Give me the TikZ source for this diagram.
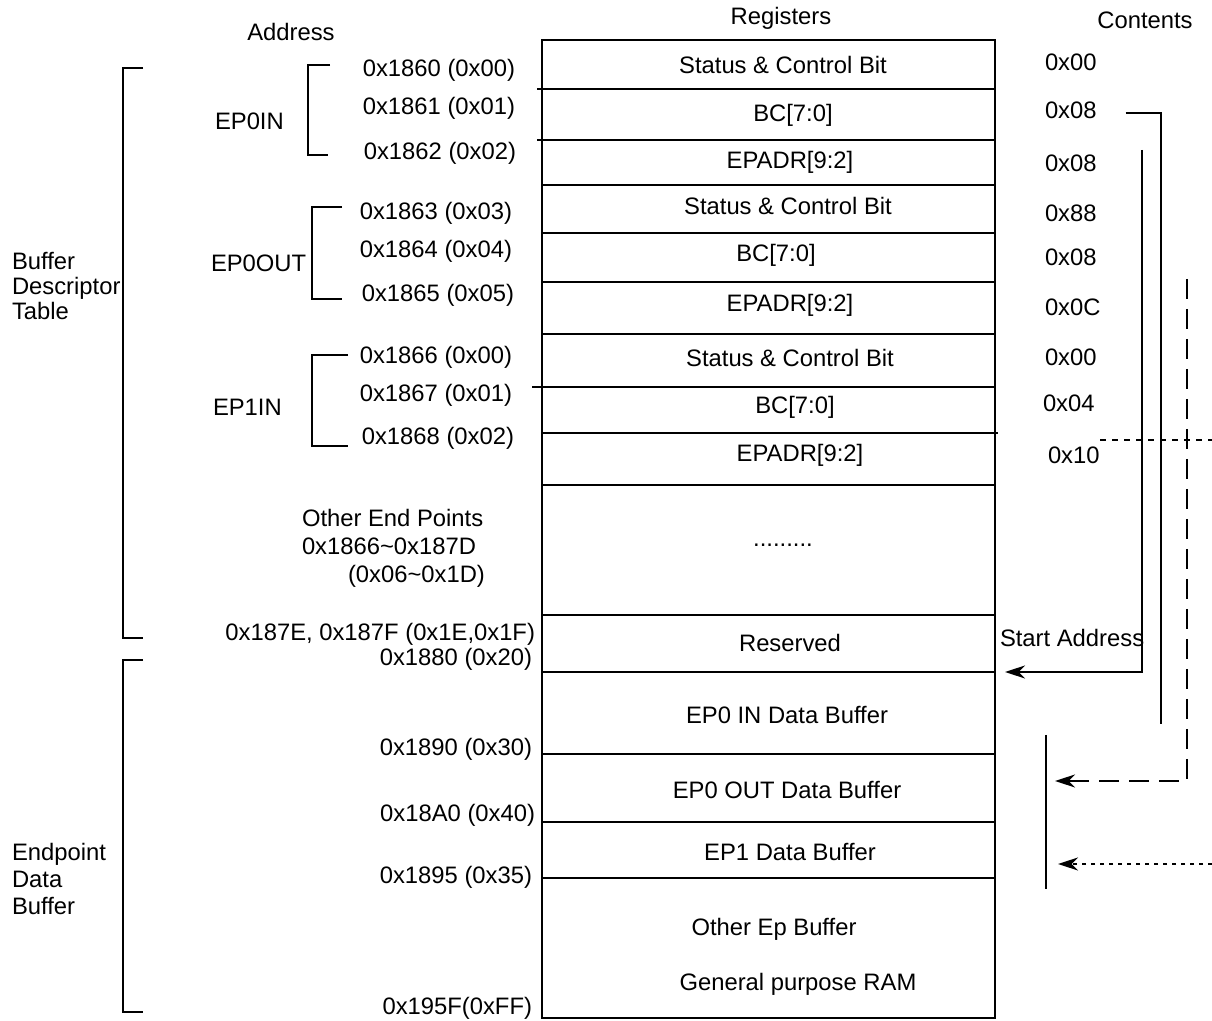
\documentclass[tikz,border=0pt]{standalone}
\usepackage{fontspec}
\setmainfont{Liberation Sans}
\usetikzlibrary{arrows.meta}

\begin{document}
\begin{tikzpicture}[x=.5pt,y=-.5pt,line width=1pt,font=\fontsize{11.9}{14}\selectfont,
    inner sep=1pt,tip/.style={-{Stealth[length=10pt,width=6.5pt]}},
    longdash/.style={dash pattern=on 10pt off 5pt},shortdash/.style={dash pattern=on 3pt off 3pt},
    dotdash/.style={dash pattern=on 2pt off 2.5pt}]
  \useasboundingbox(0,0)rectangle(1212,1021);
  \draw(542,40)rectangle(995,1018);
  \foreach \y in {185,233,282,334,485,615,672,754,822,878}\draw(542,\y)--(995,\y);
  \draw(537,89)--(995,89);\draw(537,140)--(995,140);\draw(532,387)--(995,387);\draw(542,433)--(998,433);
  \foreach \n/\x/\y/\t in {1/783/65/Status \& Control Bit,2/793/115/BC[7:0],3/790/162/EPADR[9:2],
      4/788/206/Status \& Control Bit,5/776/255/BC[7:0],6/790/305/EPADR[9:2],
      7/790/358/Status \& Control Bit,8/795/407/BC[7:0],9/800/455/EPADR[9:2],
      11/790/643/Reserved,12/787/715/EP0 IN Data Buffer,13/787/790/EP0 OUT Data Buffer,
      14/790/852/EP1 Data Buffer,15/774/929/Other Ep Buffer,16/798/984/General purpose RAM}
    \node(reg\n)at(\x,\y){\t};
  \node(reg10)at(783,545){.........};
  \node(hadr)at(291,32){Address};
  \node(hreg)at(781,18){Registers};
  \node(hcnt)at(1145,20){Contents};
  \foreach \n/\x/\y/\t in {1/1042/62/0x00,2/1042/110/0x08,3/1042/163/0x08,4/1042/213/0x88,5/1042/257/0x08,
      6/1042/307/0x0C,7/1042/357/0x00,8/1040/403/0x04,9/1045/455/0x10}
    \node[anchor=west](cnt\n)at(\x,\y){\t};
  \foreach \n/\x/\y/\t in {1/518/70/0x1860 (0x00),2/518/108/0x1861 (0x01),3/519/153/0x1862 (0x02),
      4/515/213/0x1863 (0x03),5/515/251/0x1864 (0x04),6/517/295/0x1865 (0x05),
      7/515/357/0x1866 (0x00),8/515/395/0x1867 (0x01),9/517/438/0x1868 (0x02),
      11/535/659/0x1880 (0x20),12/535/749/0x1890 (0x30),13/538/815/0x18A0 (0x40),
      14/535/877/0x1895 (0x35),15/535/1008/0x195F(0xFF)}
    \node[anchor=east](adr\n)at(\x,\y){\t};
  \node[anchor=east](adr10)at(538,634){0x187E, 0x187F (0x1E,0x1F)};
  \node[anchor=west,align=left](other)at(299,548){Other End Points\\0x1866\textasciitilde0x187D\\\hspace*{23pt}(0x06\textasciitilde0x1D)};
  \node[anchor=west](ep0in)at(212,121){EP0IN};
  \node[anchor=west](ep0out)at(208,263){EP0OUT};
  \node[anchor=west](ep1in)at(210,407){EP1IN};
  \node[anchor=west,align=left,font=\fontsize{11.9}{12.5}\selectfont](bdt)at(9,286){Buffer\\Descriptor\\Table};
  \node[anchor=west,align=left,font=\fontsize{11.9}{13.5}\selectfont](edb)at(9,879){Endpoint\\Data\\Buffer};
  \draw(330,65)-|(308,155)--(328,155);
  \draw(342,207)-|(312,299)--(342,299);
  \draw(348,355)-|(312,446)--(348,446);
  \draw(143,68)-|(123,638)--(143,638);
  \draw(143,660)-|(123,1012)--(143,1012);
  \node[anchor=west](start)at(997,638){Start Address};
  \coordinate(len)at(1161,724);
  \coordinate(sadr)at(1005,672);
  \coordinate(ep0o)at(1055,781);
  \coordinate(ep1)at(1058,864);
  \draw([xshift=13pt,yshift=-1.5pt]cnt2.east)-|(len);
  \draw[tip](1142,150)|-(sadr);
  \draw[tip,longdash](1187,279)|-(ep0o);
  \draw[shortdash](1100,440)--(1212,440);
  \draw[tip,dotdash](1212,864)--(ep1);
  \draw(1046,735)--(1046,889);
\end{tikzpicture}
\end{document}
